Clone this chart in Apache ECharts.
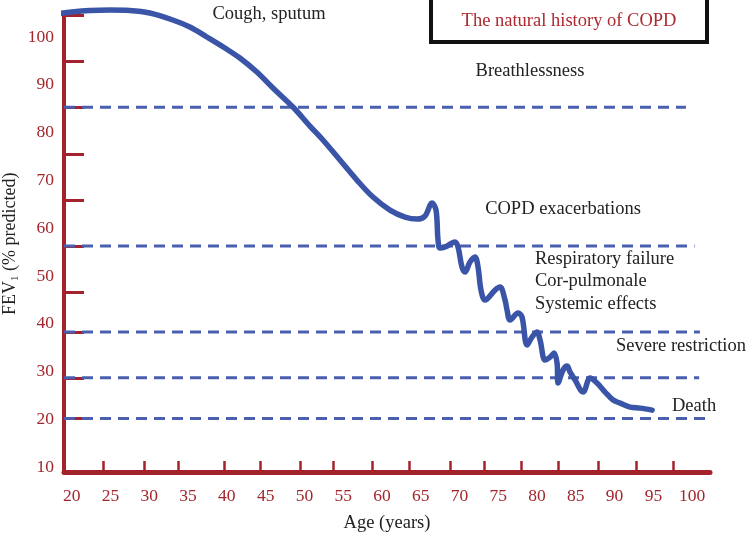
<!DOCTYPE html>
<html>
<head>
<meta charset="utf-8">
<script src="https://cdn.jsdelivr.net/npm/echarts@6/dist/echarts.min.js"></script>
<style>
html,body{margin:0;padding:0;background:#fff;}
#chart{width:747px;height:533px;}
</style>
</head>
<body>
<div id="chart"></div>
<script>
// ---- data ----
var curveAge = [18.06,20.0,22.32,24.9,27.48,30.06,33.03,35.23,37.42,39.74,41.68,43.87,45.94,48.52,50.71,52.39,54.58,56.77,58.84,61.03,62.97,64.52,65.55,
  66.45,66.97,67.23,67.48,68.13,69.42,69.81,70.32,70.71,71.35,72.0,72.39,72.77,73.29,74.58,75.23,75.87,76.13,76.52,77.55,78.06,78.71,79.35,80.0,80.39,81.03,81.68,82.19,82.58,82.71,83.35,83.87,84.26,84.9,85.94,86.84,87.74,88.77,89.81,90.71,92.0,93.29,94.84];
var curveFev = [104.83,105.25,105.57,105.67,105.57,105.04,103.58,102.11,100.02,97.72,95.62,92.69,89.35,85.37,81.39,78.46,74.28,70.09,66.53,63.81,62.35,61.93,62.56,
  65.28,63.81,57.53,55.86,56.07,57.11,56.07,51.88,50.83,52.93,53.97,51.88,47.07,44.97,47.07,47.70,44.97,42.88,40.79,42.25,41.41,35.56,37.23,38.28,36.6,32.42,33.05,33.88,31.79,27.6,30.32,31.16,29.9,28.23,25.72,28.65,27.6,25.72,24.05,23.42,22.58,22.37,21.95];
var refLevels = [85.3, 56.3, 38.3, 28.7, 20.2];
var refStart = 19;
var refEnds = [99.2, 100.3, 101.0, 100.9, 101.7];
var xTickLabels = [20,25,30,35,40,45,50,55,60,65,70,75,80,85,90,95,100];
var xTickMarks = [24.1,29.4,33.7,39.6,44.3,49.5,53.7,58.7,63.5,68.8,73.2,77.9,82.7,87.9,92.8,97.5];
var yTickLabels = [10,20,30,40,50,60,70,80,90,100];
var yTickMarks = [20.2,28.7,38.3,46.7,56.3,65.9,75.5,85.3,94.9,104.5];
var annotations = [
  {text:'Cough, sputum', x:269, y:14, align:'center'},
  {text:'Breathlessness', x:530, y:71, align:'center'},
  {text:'COPD exacerbations', x:563, y:209, align:'center'},
  {text:'Respiratory failure', x:535, y:259, align:'left'},
  {text:'Cor-pulmonale', x:535, y:281, align:'left'},
  {text:'Systemic effects', x:535, y:304, align:'left'},
  {text:'Severe restriction', x:616, y:346, align:'left'},
  {text:'Death', x:672, y:406, align:'left'}
];
var titleText = 'The natural history of COPD';

// ---- chart ----
var RED = '#a3222b';
var LABEL_RED = '#a3262c';
var BLUE = '#3a55a7';
var DASH_BLUE = '#4a5fae';
var FONT = '"Liberation Serif", "DejaVu Serif", serif';

var chart = echarts.init(document.getElementById('chart'), null, {renderer:'canvas'});

var series = [];
refLevels.forEach(function(v, i){
  series.push({
    type:'line', data:[[refStart, v],[refEnds[i], v]], symbol:'none', silent:true,
    lineStyle:{color:DASH_BLUE, width:3, type:[11,7]}, z:2, clip:false
  });
});
series.push({
  type:'line', data: curveAge.map(function(a,i){return [a, curveFev[i]];}),
  symbol:'none', smooth:0.35, clip:false, z:5,
  lineStyle:{color:BLUE, width:5.5, cap:'round', join:'round'}
});

var graphics = [{
  type:'rect', shape:{x:431, y:-3, width:276, height:45},
  style:{fill:'#fff', stroke:'#111', lineWidth:4}, z:10
},{
  type:'text', x:569, y:21, z:11,
  style:{text:titleText, fill:'#ac2a30', font:'18.5px ' + FONT, textAlign:'center', textVerticalAlign:'middle'}
}];
annotations.forEach(function(a){
  graphics.push({type:'text', x:a.x, y:a.y, z:11,
    style:{text:a.text, fill:'#222', font:'18.5px ' + FONT, textAlign:a.align, textVerticalAlign:'middle'}});
});

chart.setOption({
  animation:false,
  backgroundColor:'#fff',
  grid:{left:64, right:37, top:15.6, bottom:61, containLabel:false, outerBoundsMode:'none'},
  xAxis:{
    type:'value', min:19, max:102.3,
    splitLine:{show:false},
    axisLine:{show:true, onZero:false, lineStyle:{color:RED, width:5}},
    axisTick:{show:true, inside:true, length:11, lineStyle:{color:RED, width:2.5}, customValues:xTickMarks},
    axisLabel:{show:true, color:LABEL_RED, fontFamily:FONT, fontSize:17.5, margin:15, customValues:xTickLabels},
    name:'Age (years)', nameLocation:'middle', nameGap:42, nameMoveOverlap:false,
    nameTextStyle:{color:'#222', fontFamily:FONT, fontSize:18.5}
  },
  yAxis:{
    type:'value', min:9, max:104.5,
    splitLine:{show:false},
    axisLine:{show:true, onZero:false, lineStyle:{color:RED, width:4}},
    axisTick:{show:true, inside:true, length:20, lineStyle:{color:RED, width:3}, customValues:yTickMarks},
    axisLabel:{show:true, color:LABEL_RED, fontFamily:FONT, fontSize:17.5, margin:10, customValues:yTickLabels},
    name:'{a|FEV}{s|1}{a| (% predicted)}', nameLocation:'middle', nameGap:43, nameRotate:90, nameMoveOverlap:false,
    nameTextStyle:{
      color:'#222', fontFamily:FONT, fontSize:18,
      rich:{
        a:{color:'#222', fontFamily:FONT, fontSize:18, lineHeight:22, verticalAlign:'middle'},
        s:{color:'#222', fontFamily:FONT, fontSize:11, lineHeight:22, verticalAlign:'bottom', padding:[6,0,0,0]}
      }
    }
  },
  series:series,
  graphic:graphics
});
</script>
</body>
</html>
